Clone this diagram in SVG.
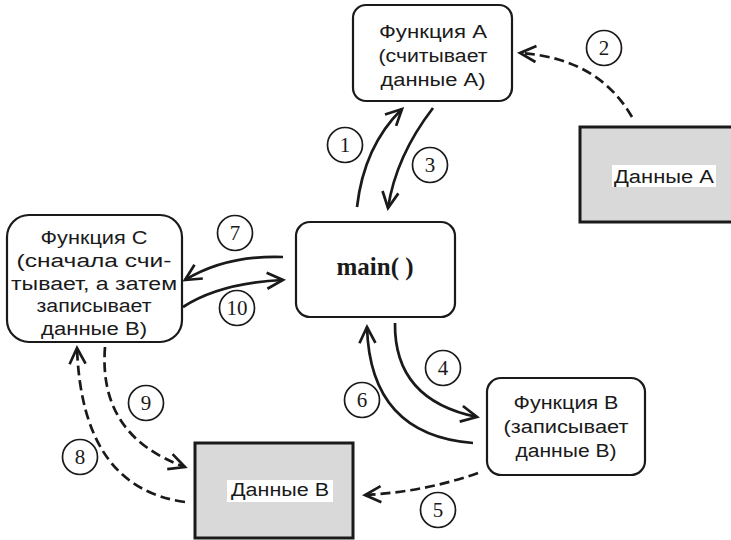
<svg xmlns="http://www.w3.org/2000/svg" width="731" height="540" viewBox="0 0 731 540">
<defs>
<style>
.fn{fill:#fff;stroke:#1a1a1a;stroke-width:2.2}
.data{fill:#d9d9d9;stroke:#1a1a1a;stroke-width:3}
.lbl{font-family:"Liberation Sans",Arial,sans-serif;font-size:18px;fill:#1a1a1a;text-anchor:middle}
.num{font-family:"Liberation Serif","Times New Roman",serif;font-size:21px;fill:#1a1a1a;text-anchor:middle}
.circ{fill:#fff;stroke:#1a1a1a;stroke-width:1.7}
.solid{fill:none;stroke:#1a1a1a;stroke-width:2.7;marker-end:url(#ah)}
.dash{fill:none;stroke:#1a1a1a;stroke-width:2.7;stroke-dasharray:10 5;marker-end:url(#ah)}
</style>
<marker id="ah" markerUnits="userSpaceOnUse" markerWidth="30" markerHeight="30" refX="0" refY="0" viewBox="-20 -15 30 30" orient="auto">
<path d="M -16 -8 L 0 0 L -16 8" fill="none" stroke="#1a1a1a" stroke-width="2.7" stroke-linejoin="miter"/>
</marker>
</defs>

<g id="funcA">
<rect class="fn" x="353" y="5" width="159" height="96" rx="13"/>
<text class="lbl" x="433" y="37.5" textLength="108" lengthAdjust="spacingAndGlyphs">Функция А</text>
<text class="lbl" x="433" y="61.5" textLength="109" lengthAdjust="spacingAndGlyphs">(считывает</text>
<text class="lbl" x="433" y="86" textLength="105" lengthAdjust="spacingAndGlyphs">данные А)</text>
</g>

<g id="dataA">
<rect class="data" x="580" y="127" width="160" height="95"/>
<rect x="612" y="165" width="104" height="22" fill="#fff"/>
<text class="lbl" x="664" y="183" textLength="100" lengthAdjust="spacingAndGlyphs">Данные А</text>
</g>

<g id="funcC">
<rect class="fn" x="7" y="215" width="175" height="127" rx="22"/>
<text class="lbl" x="94" y="244" textLength="107" lengthAdjust="spacingAndGlyphs">Функция С</text>
<text class="lbl" x="94" y="267" textLength="155" lengthAdjust="spacingAndGlyphs">(сначала счи-</text>
<text class="lbl" x="94" y="290" textLength="166" lengthAdjust="spacingAndGlyphs">тывает, а затем</text>
<text class="lbl" x="94" y="312" textLength="115" lengthAdjust="spacingAndGlyphs">записывает</text>
<text class="lbl" x="94" y="335" textLength="106" lengthAdjust="spacingAndGlyphs">данные В)</text>
</g>

<g id="main">
<rect class="fn" x="296" y="222" width="159" height="95" rx="14"/>
<text x="375" y="275" font-family="'Liberation Serif','Times New Roman',serif" font-size="25" font-weight="bold" fill="#1a1a1a" text-anchor="middle">main( )</text>
</g>

<g id="funcB">
<rect class="fn" x="487" y="378" width="158" height="97" rx="14"/>
<text class="lbl" x="566" y="409" textLength="105" lengthAdjust="spacingAndGlyphs">Функция В</text>
<text class="lbl" x="566" y="433" textLength="125" lengthAdjust="spacingAndGlyphs">(записывает</text>
<text class="lbl" x="566" y="457" textLength="101" lengthAdjust="spacingAndGlyphs">данные В)</text>
</g>

<g id="dataB">
<rect class="data" x="195" y="443" width="158" height="95"/>
<rect x="227" y="480" width="106" height="22" fill="#fff"/>
<text class="lbl" x="280" y="496" textLength="98" lengthAdjust="spacingAndGlyphs">Данные В</text>
</g>

<g id="connectors">
<path class="solid" d="M357,207 Q364,146 402,109"/>
<path class="solid" d="M433,108 Q396,156 388,208"/>
<path class="dash" d="M632,117 Q598,58 520,53"/>
<path class="solid" d="M283,257 Q226,255 185,280"/>
<path class="solid" d="M183,307 Q220,283 283,280"/>
<path class="solid" d="M395,323 Q394,400 477,417"/>
<path class="solid" d="M473,443 Q370,435 367,327"/>
<path class="dash" d="M478,473 Q424,492 365,495"/>
<path class="dash" d="M185,502 Q82,488 77,348"/>
<path class="dash" d="M105,347 Q98,436 185,467"/>
</g>

<g id="labels">
<circle class="circ" cx="345" cy="145" r="17.5"/><text class="num" x="345" y="152">1</text>
<circle class="circ" cx="604" cy="48" r="17.5"/><text class="num" x="604" y="55">2</text>
<circle class="circ" cx="430" cy="165" r="17.5"/><text class="num" x="430" y="172">3</text>
<circle class="circ" cx="443" cy="368" r="17.5"/><text class="num" x="443" y="375">4</text>
<circle class="circ" cx="438" cy="510" r="17.5"/><text class="num" x="438" y="517">5</text>
<circle class="circ" cx="362" cy="400" r="17.5"/><text class="num" x="362" y="407">6</text>
<circle class="circ" cx="235" cy="233" r="17.5"/><text class="num" x="235" y="240">7</text>
<circle class="circ" cx="80" cy="457" r="17.5"/><text class="num" x="80" y="464">8</text>
<circle class="circ" cx="146" cy="403" r="17.5"/><text class="num" x="146" y="410">9</text>
<circle class="circ" cx="237" cy="308" r="17.5"/><text class="num" x="237" y="315">10</text>
</g>
</svg>
